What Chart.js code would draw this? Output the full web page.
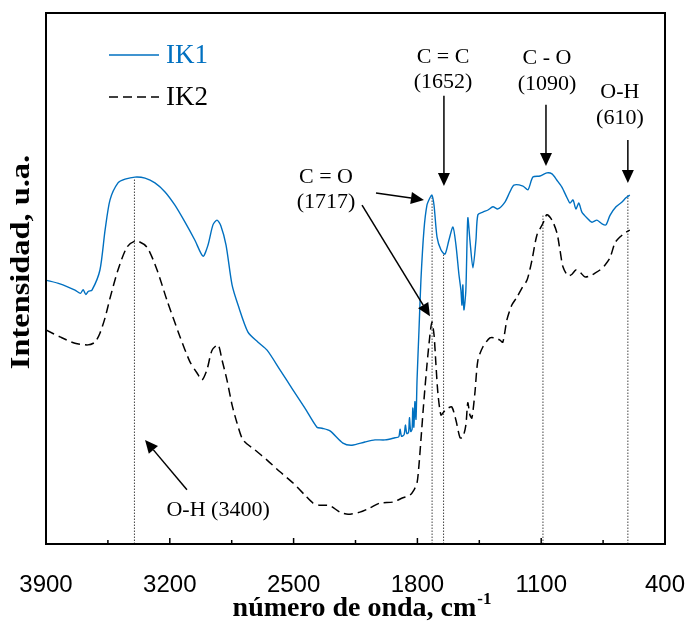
<!DOCTYPE html>
<html>
<head>
<meta charset="utf-8">
<script src="https://cdn.jsdelivr.net/npm/chart.js@4"></script>
<style>
  body { margin: 0; background: #fff; }
  #wrap { width: 689px; height: 623px; }
</style>
</head>
<body>
<div id="wrap"><canvas id="chart" width="689" height="623"></canvas></div>
<script>
// eje x (número de onda, cm-1)
const tickLabels = [3900, 3200, 2500, 1800, 1100, 400];

// IK1 - espectro superior
const ik1Wn = [3900, 3821, 3736, 3705, 3690, 3675, 3660, 3640, 3595, 3566, 3538, 3493, 3453, 3397, 3340, 3284,
  3227, 3171, 3114, 3058, 3012, 2984, 2956, 2933, 2911, 2882, 2848, 2814, 2758, 2701, 2650, 2577, 2503, 2436,
  2368, 2339, 2294, 2221, 2170, 2097, 2040, 1983, 1927, 1905, 1898, 1890, 1875, 1868, 1860, 1850, 1845, 1838,
  1830, 1826, 1820, 1814, 1808, 1802, 1791, 1780, 1763, 1746, 1729, 1718, 1706, 1689, 1667, 1644, 1622, 1599,
  1582, 1565, 1554, 1548, 1543, 1537, 1526, 1515, 1503, 1486, 1469, 1458, 1430, 1401, 1373, 1345, 1305, 1277,
  1254, 1203, 1175, 1147, 1107, 1068, 1039, 1011, 983, 954, 937, 920, 904, 887, 870, 841, 813, 785, 756, 734,
  711, 677, 643, 621, 599];
const ik1Val = [49.7, 49.0, 47.8, 47.2, 47.9, 47.0, 47.6, 47.8, 51.6, 59.1, 64.8, 68.0, 68.7, 69.1, 68.9, 68.0,
  66.3, 63.8, 60.6, 57.2, 54.2, 56.3, 60.1, 61.0, 59.9, 56.3, 48.8, 45.0, 39.9, 38.0, 36.5, 32.8, 29.0, 25.6,
  22.0, 21.8, 21.3, 19.0, 18.6, 19.2, 19.6, 19.6, 20.0, 20.2, 21.6, 20.3, 20.6, 22.4, 20.8, 21.0, 23.8, 21.2,
  21.6, 25.6, 22.0, 26.8, 23.5, 30.9, 40.3, 49.7, 59.1, 63.8, 65.2, 65.7, 63.8, 57.8, 55.4, 54.6, 57.2, 59.7,
  56.3, 50.7, 47.8, 45.0, 48.8, 44.1, 47.8, 61.4, 57.2, 52.0, 57.2, 62.0, 62.5, 62.9, 63.5, 63.1, 64.4, 66.3,
  67.6, 67.4, 66.7, 69.1, 69.3, 69.9, 69.7, 68.5, 67.2, 65.2, 64.2, 64.8, 63.1, 64.2, 62.5, 61.4, 60.6, 61.0,
  60.3, 60.1, 61.9, 63.5, 64.4, 65.2, 65.7];

// IK2 - espectro inferior
const ik2Wn = [3900, 3821, 3736, 3663, 3623, 3595, 3566, 3538, 3493, 3442, 3391, 3329, 3272, 3216, 3142, 3086,
  3046, 3018, 2990, 2961, 2927, 2905, 2877, 2848, 2820, 2786, 2718, 2650, 2577, 2503, 2436, 2390, 2351, 2294,
  2238, 2192, 2125, 2068, 2012, 1938, 1882, 1842, 1819, 1802, 1791, 1780, 1763, 1746, 1729, 1718, 1706, 1695,
  1684, 1667, 1650, 1627, 1605, 1582, 1559, 1543, 1526, 1515, 1503, 1492, 1475, 1458, 1430, 1390, 1362, 1333,
  1317, 1294, 1266, 1237, 1209, 1180, 1152, 1124, 1090, 1068, 1039, 1011, 994, 977, 949, 926, 904, 881, 853,
  824, 796, 768, 740, 711, 683, 655, 626, 599];
const ik2Val = [40.3, 39.0, 37.8, 37.5, 38.0, 39.7, 42.6, 46.3, 51.6, 55.9, 57.1, 55.9, 51.6, 45.9, 39.0, 34.3,
  32.2, 30.9, 32.8, 36.5, 37.5, 34.7, 30.9, 26.2, 22.8, 19.6, 17.7, 15.8, 13.6, 11.5, 9.2, 7.7, 7.3, 7.2,
  6.0, 5.6, 6.0, 6.8, 7.7, 7.9, 8.7, 9.2, 10.2, 11.5, 14.9, 19.6, 27.1, 33.7, 39.4, 41.8, 39.4, 33.7,
  28.4, 24.3, 24.9, 25.6, 25.8, 23.3, 20.0, 20.1, 22.4, 26.6, 24.3, 23.7, 28.4, 34.6, 37.1, 38.8, 38.8, 38.4,
  38.0, 42.2, 45.0, 46.5, 48.2, 49.7, 53.5, 58.2, 60.4, 62.0, 61.0, 58.6, 55.4, 52.2, 50.5, 50.8, 51.6, 51.2, 50.3,
  50.5, 51.0, 51.6, 52.5, 53.9, 56.7, 57.8, 58.6, 59.1];

// bandas marcadas con líneas punteadas
const bandWn = [3400, 1717, 1652, 1090, 610];
const bandTop = [68.9, 65.5, 54.8, 62.0, 65.7];

// etiquetas de las bandas (posición en número de onda / intensidad)
const labelText = ['C = O', '(1717)', 'C = C', '(1652)', 'C - O', '(1090)', 'O-H', '(610)', 'O-H (3400)'];
const labelWn = [2317, 2317, 1655, 1655, 1067, 1067, 655, 655, 2927];
const labelVal = [69.0, 64.4, 91.7, 87.0, 91.5, 86.6, 85.1, 80.2, 6.4];

// flechas: inicio -> punta
const arrowFromWn = [2034, 2113, 1650, 1073, 610, 3103];
const arrowFromVal = [66.1, 63.8, 84.4, 82.7, 76.1, 10.2];
const arrowToWn = [1763, 1729, 1650, 1073, 610, 3340];
const arrowToVal = [64.8, 42.9, 67.4, 71.2, 68.0, 19.6];

const toPoints = (xs, ys) => xs.map((x, i) => ({ x: x, y: ys[i] }));

const datasets = [
  {
    label: 'IK1',
    data: toPoints(ik1Wn, ik1Val),
    borderColor: '#0070C0',
    borderWidth: 1.4,
    pointRadius: 0,
    tension: 0.25,
  },
  {
    label: 'IK2',
    data: toPoints(ik2Wn, ik2Val),
    borderColor: '#000000',
    borderWidth: 1.5,
    borderDash: [9, 5],
    pointRadius: 0,
    tension: 0.25,
  },
];
bandWn.forEach((wn, i) => {
  datasets.push({
    label: 'banda',
    data: [{ x: wn, y: 0 }, { x: wn, y: bandTop[i] }],
    borderColor: '#444',
    borderWidth: 1,
    borderDash: [1.5, 1.5],
    pointRadius: 0,
  });
});

function drawArrow(ctx, x1, y1, x2, y2) {
  const ang = Math.atan2(y2 - y1, x2 - x1);
  const hl = 13, hw = 6;
  const bx = x2 - hl * Math.cos(ang), by = y2 - hl * Math.sin(ang);
  ctx.beginPath();
  ctx.moveTo(x1, y1);
  ctx.lineTo(bx, by);
  ctx.stroke();
  ctx.beginPath();
  ctx.moveTo(x2, y2);
  ctx.lineTo(bx + hw * Math.sin(ang), by - hw * Math.cos(ang));
  ctx.lineTo(bx - hw * Math.sin(ang), by + hw * Math.cos(ang));
  ctx.closePath();
  ctx.fill();
}

const decor = {
  id: 'decor',
  afterDraw(chart) {
    const { ctx, chartArea: a, scales } = chart;
    const sx = scales.x, sy = scales.y;
    ctx.save();

    // marco
    ctx.strokeStyle = '#000';
    ctx.lineWidth = 2;
    ctx.strokeRect(a.left, a.top, a.right - a.left, a.bottom - a.top);

    // marcas del eje x hacia dentro (cada 350)
    ctx.lineWidth = 1.5;
    for (let v = 400 + 350; v < 3900; v += 350) {
      const px = sx.getPixelForValue(v);
      const len = (v - 400) % 700 === 0 ? 6 : 4;
      ctx.beginPath();
      ctx.moveTo(px, a.bottom);
      ctx.lineTo(px, a.bottom - len);
      ctx.stroke();
    }

    // flechas
    ctx.fillStyle = '#000';
    ctx.lineWidth = 1.5;
    arrowFromWn.forEach((wn, i) => {
      drawArrow(ctx,
        sx.getPixelForValue(wn), sy.getPixelForValue(arrowFromVal[i]),
        sx.getPixelForValue(arrowToWn[i]), sy.getPixelForValue(arrowToVal[i]));
    });

    // textos de bandas
    ctx.font = '22px "Liberation Serif", "Times New Roman", serif';
    ctx.textAlign = 'center';
    ctx.textBaseline = 'middle';
    labelText.forEach((t, i) => {
      ctx.fillText(t, sx.getPixelForValue(labelWn[i]), sy.getPixelForValue(labelVal[i]));
    });

    // leyenda
    const lx = a.left + 63, ly = a.top + 42;
    [0, 1].forEach((k) => {
      const ds = chart.data.datasets[k];
      const y = ly + k * 42;
      ctx.strokeStyle = ds.borderColor;
      ctx.lineWidth = 1.5;
      ctx.setLineDash(ds.borderDash || []);
      ctx.beginPath();
      ctx.moveTo(lx, y);
      ctx.lineTo(lx + 50, y);
      ctx.stroke();
      ctx.setLineDash([]);
      ctx.fillStyle = ds.borderColor;
      ctx.font = '27px "Liberation Serif", "Times New Roman", serif';
      ctx.textAlign = 'left';
      ctx.textBaseline = 'middle';
      ctx.fillText(ds.label, lx + 57, y + 1);
    });

    // título eje x con superíndice
    ctx.fillStyle = '#000';
    ctx.textBaseline = 'alphabetic';
    ctx.textAlign = 'left';
    const main = 'número de onda, cm';
    const sup = '-1';
    ctx.font = 'bold 28px "Liberation Serif", "Times New Roman", serif';
    const wMain = ctx.measureText(main).width;
    ctx.font = 'bold 17px "Liberation Serif", "Times New Roman", serif';
    const wSup = ctx.measureText(sup).width;
    const x0 = (a.left + a.right) / 2 - (wMain + wSup) / 2 + 6;
    ctx.font = 'bold 28px "Liberation Serif", "Times New Roman", serif';
    ctx.fillText(main, x0, 616);
    ctx.font = 'bold 17px "Liberation Serif", "Times New Roman", serif';
    ctx.fillText(sup, x0 + wMain + 1, 604);

    // título eje y (algo estirado como en el original)
    ctx.translate(a.left - 24, a.top + 249);
    ctx.rotate(-Math.PI / 2);
    ctx.scale(1.2, 1);
    ctx.font = 'bold 27px "Liberation Serif", "Times New Roman", serif';
    ctx.textAlign = 'center';
    ctx.textBaseline = 'middle';
    ctx.fillText('Intensidad, u.a.', 0, 0);

    ctx.restore();
  },
};

new Chart(document.getElementById('chart'), {
  type: 'line',
  data: { datasets: datasets },
  options: {
    responsive: false,
    animation: false,
    layout: { padding: { left: 46, top: 13, right: 24, bottom: 0 } },
    plugins: { legend: { display: false }, tooltip: { enabled: false } },
    scales: {
      x: {
        type: 'linear',
        reverse: true,
        min: 400,
        max: 3900,
        afterBuildTicks: (s) => { s.ticks = tickLabels.map((v) => ({ value: v })); },
        afterFit: (s) => {
          s.height = 79;
          s.paddingLeft = 0;
          s.paddingRight = 0;
        },
        grid: { display: false, drawTicks: false },
        border: { display: false },
        ticks: {
          color: '#000',
          padding: 27,
          maxRotation: 0,
          autoSkip: false,
          callback: (v) => String(v),
          font: { family: '"Liberation Sans", Arial, sans-serif', size: 24 },
        },
      },
      y: {
        display: false,
        min: 0,
        max: 100,
      },
    },
  },
  plugins: [decor],
});
</script>
</body>
</html>
